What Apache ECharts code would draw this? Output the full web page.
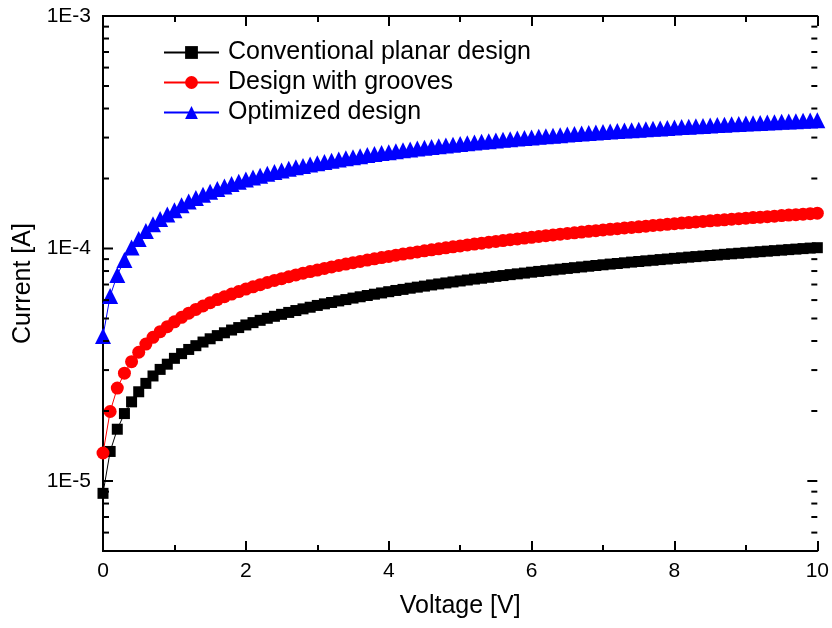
<!DOCTYPE html>
<html>
<head>
<meta charset="utf-8">
<script src="https://cdn.jsdelivr.net/npm/echarts@6/dist/echarts.min.js"></script>
<style>html,body{margin:0;padding:0;background:#fff;}#c{width:832px;height:628px;}</style>
</head>
<body>
<div id="c"></div>
<script>
// Voltage [V]
const voltage = [0,0.1,0.2,0.3,0.4,0.5,0.6,0.7,0.8,0.9,1,1.1,1.2,1.3,1.4,1.5,1.6,1.7,1.8,1.9,2,2.1,2.2,2.3,2.4,2.5,2.6,2.7,2.8,2.9,3,3.1,3.2,3.3,3.4,3.5,3.6,3.7,3.8,3.9,4,4.1,4.2,4.3,4.4,4.5,4.6,4.7,4.8,4.9,5,5.1,5.2,5.3,5.4,5.5,5.6,5.7,5.8,5.9,6,6.1,6.2,6.3,6.4,6.5,6.6,6.7,6.8,6.9,7,7.1,7.2,7.3,7.4,7.5,7.6,7.7,7.8,7.9,8,8.1,8.2,8.3,8.4,8.5,8.6,8.7,8.8,8.9,9,9.1,9.2,9.3,9.4,9.5,9.6,9.7,9.8,9.9,10];
// Currents in microampere
const conventional_uA = [8.85,13.4,16.7,19.5,21.9,24.2,26.3,28.3,30.2,31.8,33.7,35.3,36.8,38.2,39.6,40.9,42.2,43.4,44.6,45.7,46.9,48.0,49.1,50.1,51.1,52.1,53.1,54.1,55.0,55.9,56.9,57.8,58.6,59.5,60.3,61.2,62.0,62.8,63.6,64.4,65.2,66.0,66.7,67.5,68.2,68.9,69.7,70.4,71.1,71.8,72.5,73.2,73.9,74.5,75.2,75.9,76.5,77.2,77.8,78.4,79.1,79.7,80.3,80.9,81.5,82.1,82.7,83.3,83.9,84.5,85.1,85.7,86.2,86.8,87.4,87.9,88.5,89.0,89.6,90.1,90.7,91.2,91.8,92.3,92.8,93.3,93.8,94.4,94.9,95.4,95.9,96.4,96.9,97.4,97.9,98.4,98.9,99.4,99.9,100.4,100.8];
const grooves_uA = [13.2,19.9,25.1,29.1,32.6,35.8,38.8,41.5,43.9,46.1,48.4,50.6,52.7,54.7,56.6,58.5,60.3,62.0,63.7,65.3,66.9,68.4,69.9,71.4,72.9,74.2,75.6,77.0,78.3,79.6,80.8,82.1,83.3,84.5,85.7,86.9,88.0,89.2,90.3,91.4,92.5,93.6,94.6,95.6,96.7,97.7,98.7,99.7,100.7,101.7,102.6,103.6,104.5,105.4,106.4,107.3,108.2,109.1,110.0,110.9,111.7,112.6,113.5,114.3,115.2,116.0,116.8,117.7,118.5,119.3,120.1,120.9,121.7,122.5,123.2,124.0,124.8,125.6,126.3,127.1,127.8,128.6,129.3,130.0,130.8,131.5,132.2,132.9,133.6,134.4,135.0,135.8,136.4,137.1,137.8,138.5,139.2,139.8,140.5,141.2,141.9];
const optimized_uA = [42,62.5,76.9,89.3,101,110,119,127,134,140,146,153.3,159.3,165.0,170.4,175.5,180.4,185.0,189.5,193.8,197.9,201.9,205.8,209.5,213.2,216.7,220.1,223.4,226.6,229.7,232.8,235.7,238.6,241.5,244.2,247.0,249.6,252.2,254.7,257.2,259.6,262.0,264.4,266.7,268.9,271.1,273.3,275.5,277.6,279.6,281.7,283.7,285.7,287.6,289.5,291.4,293.3,295.1,296.9,298.7,300.5,302.2,303.9,305.6,307.3,308.9,310.5,312.2,313.7,315.3,316.9,318.4,319.9,321.4,322.9,324.3,325.8,327.2,328.6,330.0,331.4,332.8,334.1,335.5,336.8,338.1,339.4,340.7,342.0,343.2,344.5,345.7,347.0,348.2,349.4,350.6,351.8,353.0,354.1,355.3,356.5];
const seriesNames = ['Conventional planar design', 'Design with grooves', 'Optimized design'];
// y axis ticks
const yMajorTicks = [1e-5, 1e-4, 1e-3];
const yMinorTicks = [6e-6,7e-6,8e-6,9e-6,2e-5,3e-5,4e-5,5e-5,6e-5,7e-5,8e-5,9e-5,2e-4,3e-4,4e-4,5e-4,6e-4,7e-4,8e-4,9e-4];

const FONT = 'Liberation Sans, Arial, sans-serif';
function toPairs(vals) { return voltage.map((v, i) => [v, vals[i] * 1e-6]); }

const tickData = yMajorTicks.map(v => [0, v, 10]).concat(yMinorTicks.map(v => [0, v, 6]));

const chart = echarts.init(document.getElementById('c'), null, {renderer: 'canvas'});
chart.setOption({
  animation: false,
  backgroundColor: '#fff',
  grid: {left: 103, right: 14, top: 16, bottom: 77, containLabel: false},
  legend: {
    data: seriesNames,
    orient: 'vertical',
    left: 163, top: 40,
    itemWidth: 55, itemHeight: 16, itemGap: 5,
    padding: 0,
    textStyle: {fontSize: 25, fontFamily: FONT, color: '#000', lineHeight: 25, padding: [0, 0, 0, 4]},
    selectedMode: false
  },
  xAxis: [{
    type: 'value', min: 0, max: 10, interval: 2, position: 'bottom',
    axisLine: {lineStyle: {color: '#000', width: 2}},
    axisTick: {inside: true, length: 10, lineStyle: {color: '#000', width: 2}},
    minorTick: {show: true, splitNumber: 2, length: 6, lineStyle: {color: '#000', width: 2}},
    splitLine: {show: false},
    axisLabel: {fontSize: 21, fontFamily: FONT, color: '#000', margin: 10},
    name: 'Voltage [V]', nameLocation: 'middle', nameGap: 43,
    nameTextStyle: {fontSize: 25, fontFamily: FONT, color: '#000'}
  }, {
    type: 'value', min: 0, max: 10, interval: 2, position: 'top',
    axisLine: {lineStyle: {color: '#000', width: 2}},
    axisTick: {inside: true, length: 10, lineStyle: {color: '#000', width: 2}},
    minorTick: {show: true, splitNumber: 2, length: 6, lineStyle: {color: '#000', width: 2}},
    splitLine: {show: false},
    axisLabel: {show: false}
  }],
  yAxis: [{
    type: 'log', logBase: 10, min: 5e-6, max: 1e-3, position: 'left',
    axisLine: {show: true, lineStyle: {color: '#000', width: 2}},
    axisTick: {show: false},
    splitLine: {show: false},
    axisLabel: {
      fontSize: 21, fontFamily: FONT, color: '#000', margin: 12,
      formatter: function (v) {
        const e = Math.log10(v);
        const r = Math.round(e);
        return Math.abs(e - r) < 1e-6 ? ('1E' + r) : '';
      }
    },
    name: 'Current [A]', nameLocation: 'middle', nameGap: 67,
    nameTextStyle: {fontSize: 25, fontFamily: FONT, color: '#000'}
  }, {
    type: 'log', logBase: 10, min: 5e-6, max: 1e-3, position: 'right',
    axisLine: {show: true, lineStyle: {color: '#000', width: 2}},
    axisTick: {show: false}, splitLine: {show: false}, axisLabel: {show: false}
  }],
  series: [{
    name: seriesNames[0], type: 'line', data: toPairs(conventional_uA),
    symbol: 'rect', symbolSize: 11, showAllSymbol: true,
    itemStyle: {color: '#000000'}, lineStyle: {color: '#000000', width: 1}
  }, {
    name: seriesNames[1], type: 'line', data: toPairs(grooves_uA),
    symbol: 'circle', symbolSize: 13, showAllSymbol: true,
    itemStyle: {color: '#ff0000'}, lineStyle: {color: '#ff0000', width: 1}
  }, {
    name: seriesNames[2], type: 'line', data: toPairs(optimized_uA),
    symbol: 'triangle', symbolSize: 16, showAllSymbol: true,
    itemStyle: {color: '#0000ff'}, lineStyle: {color: '#0000ff', width: 1}
  }, {
    type: 'custom', silent: true, clip: false, z: 10,
    data: tickData,
    renderItem: function (params, api) {
      const v = api.value(1), len = api.value(2);
      const pl = api.coord([0, v]);
      const pr = api.coord([10, v]);
      const style = {stroke: '#000', lineWidth: 2};
      return {type: 'group', children: [
        {type: 'line', shape: {x1: pl[0], y1: pl[1], x2: pl[0] + len, y2: pl[1]}, style: style},
        {type: 'line', shape: {x1: pr[0] - len, y1: pr[1], x2: pr[0], y2: pr[1]}, style: style}
      ]};
    }
  }]
});
</script>
</body>
</html>
